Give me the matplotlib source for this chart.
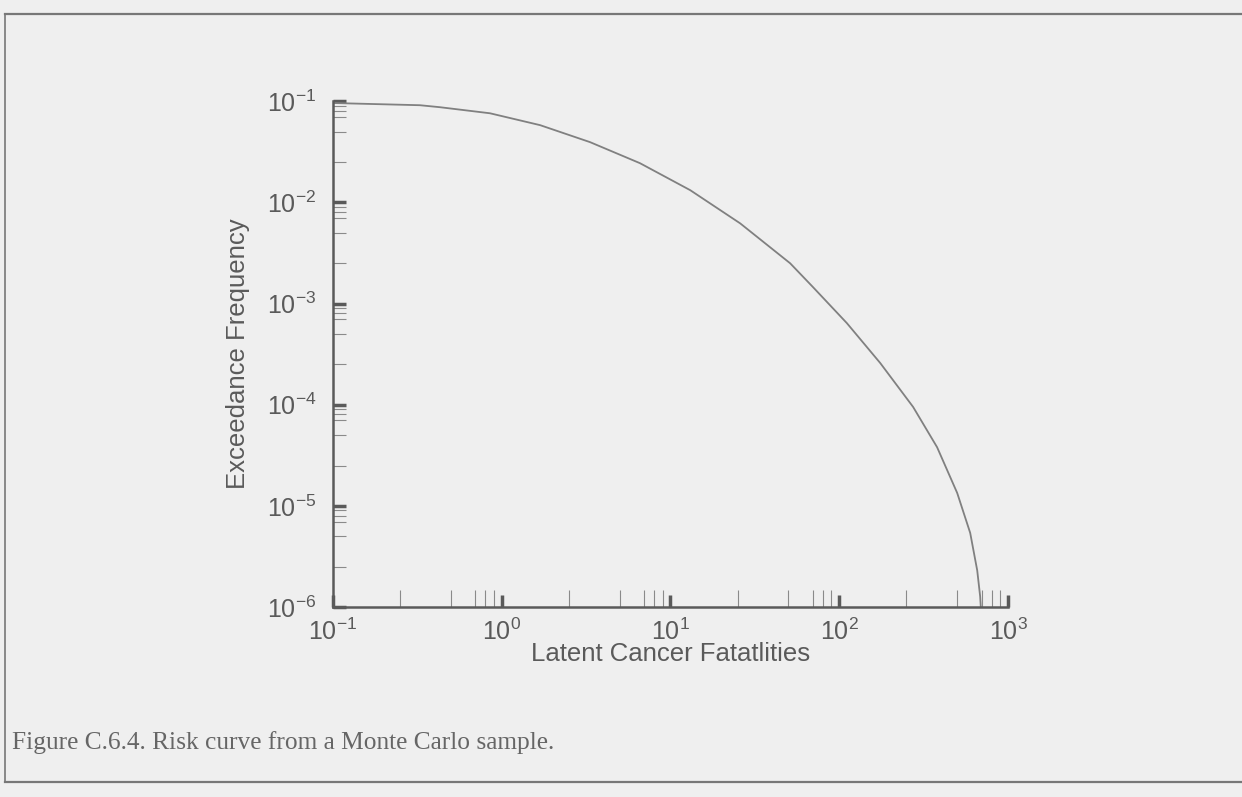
import matplotlib
matplotlib.use("Agg")
from matplotlib import pyplot as plt, ticker
from matplotlib.lines import Line2D
import numpy as np

# risk curve read from the Monte Carlo sample
fatalities = [0.1, 0.328, 0.43, 0.853, 1.69, 3.34, 6.6, 13.1, 25.9, 51.2, 70.0,
              111.0, 175.0, 274.0, 380.0, 500.0, 597.0, 657.0, 684.0, 690.0]
exceedance = [0.096, 0.0913, 0.0873, 0.076, 0.058, 0.0394, 0.0244, 0.0132,
              6.2e-3, 2.5e-3, 1.45e-3, 6.4e-4, 2.58e-4, 9.5e-5, 3.8e-5, 1.34e-5,
              5.4e-6, 2.3e-6, 1.27e-6, 1.0e-6]

x_label = 'Latent Cancer Fatatlities'
y_label = 'Exceedance Frequency'
caption = 'Figure C.6.4. Risk curve from a Monte Carlo sample.'

paper = '#efefef'
ink = '#5a5a5a'

plt.rcParams['font.family'] = ['Liberation Sans', 'DejaVu Sans']
plt.rcParams['mathtext.fontset'] = 'custom'
plt.rcParams['mathtext.rm'] = 'Liberation Sans'

fig = plt.figure(figsize=(12.42, 7.97), dpi=100, facecolor=paper)
ax = fig.add_axes([0.268, 0.2384, 0.5436, 0.6346])
ax.set_facecolor(paper)

ax.plot(fatalities, exceedance, color='#808080', lw=1.3)

ax.set_xscale('log')
ax.set_yscale('log')
ax.set_xlim(0.1, 1000)
ax.set_ylim(1e-6, 1e-1)

for side in ('top', 'right'):
    ax.spines[side].set_visible(False)
for side in ('left', 'bottom'):
    ax.spines[side].set_color(ink)
    ax.spines[side].set_linewidth(1.8)

fmt = ticker.FuncFormatter(lambda v, p: r'$\mathregular{10^{%d}}$' % round(np.log10(v)))
minor_subs = (2.5, 5, 7, 8, 9)
for axis in (ax.xaxis, ax.yaxis):
    axis.set_major_locator(ticker.LogLocator(base=10, numticks=10))
    axis.set_minor_locator(ticker.LogLocator(base=10, subs=minor_subs, numticks=10))
    axis.set_major_formatter(fmt)
    axis.set_minor_formatter(ticker.NullFormatter())

ax.tick_params(which='major', direction='in', length=9, width=2.5, color=ink,
               labelsize=18, labelcolor=ink)
ax.tick_params(which='minor', direction='in', width=0.8, color='#8a8a8a')
ax.tick_params(axis='x', which='minor', length=12)
ax.tick_params(axis='y', which='minor', length=9)
ax.tick_params(axis='x', which='major', pad=8)
ax.tick_params(axis='y', which='major', pad=12)

ax.set_xlabel(x_label, fontsize=18.5, color=ink)
ax.set_ylabel(y_label, fontsize=18.5, color=ink, labelpad=12)
ax.xaxis.set_label_coords(0.5, -0.07)

# page frame and caption
fig.add_artist(Line2D([0.004, 0.004], [0.019, 0.983], color='#777777', lw=1.2))
fig.add_artist(Line2D([0.004, 1.0], [0.983, 0.983], color='#777777', lw=1.6))
fig.add_artist(Line2D([0.004, 1.0], [0.019, 0.019], color='#777777', lw=1.6))
fig.text(0.01, 0.06, caption, family=['Liberation Serif', 'DejaVu Serif'],
         fontsize=18.3, color='#666666', ha='left', va='baseline')

plt.savefig('out.png', dpi=100, facecolor=paper)
